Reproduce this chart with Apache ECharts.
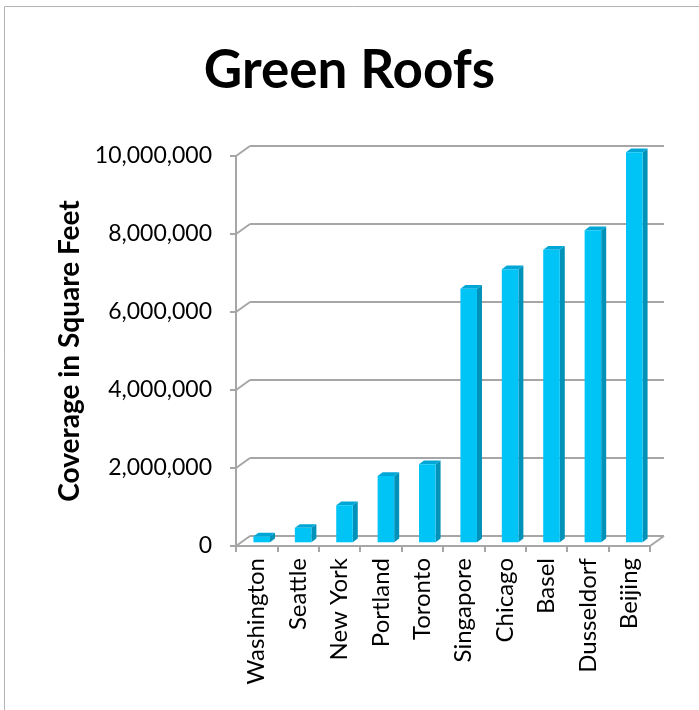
<!DOCTYPE html>
<html>
<head>
<meta charset="utf-8">
<script src="https://cdn.jsdelivr.net/npm/echarts@6/dist/echarts.min.js"></script>
<style>
html,body{margin:0;padding:0;background:#fff;}
#main{width:699px;height:710px;}
</style>
</head>
<body>
<div id="main"></div>
<script>
const categories = ['Washington','Seattle','New York','Portland','Toronto','Singapore','Chicago','Basel','Dusseldorf','Beijing'];
const coverage = [150000, 370000, 950000, 1700000, 2000000, 6500000, 7000000, 7500000, 8000000, 10000000];
const yTicks = [0, 2000000, 4000000, 6000000, 8000000, 10000000];
const titleText = 'Green Roofs';
const yAxisName = 'Coverage in Square Feet';

const FONT = 'Lato';
const GRAY = '#a6a6a6';
const DEPTH_X = 14, DEPTH_Y = -10;      // wall depth
const BAR_OFF_X = 5, BAR_OFF_Y = -3.7;  // bar placement within depth
const BAR_DX = 5, BAR_DY = -3.7;        // bar own depth

function fmt(v){ return v.toString().replace(/\B(?=(\d{3})+(?!\d))/g, ','); }

const chart = echarts.init(document.getElementById('main'), null, {renderer:'canvas'});

const option = {
  animation: false,
  backgroundColor: '#fff',
  title: {
    text: titleText,
    left: 'center',
    top: 39,
    textStyle: {fontFamily: FONT, fontWeight: 'bold', fontSize: 53, color: '#000'}
  },
  graphic: [{
    type: 'rect', silent: true, z: -10,
    shape: {x: 4.5, y: 6.5, width: 720, height: 720},
    style: {fill: 'none', stroke: '#b4b4b4', lineWidth: 1}
  }],
  grid: [
    {left: 236, right: 49, top: 156, bottom: 164},
    {left: 236 + DEPTH_X, right: 49 - DEPTH_X, top: 156 + DEPTH_Y, bottom: 164 - DEPTH_Y}
  ],
  xAxis: [
    {
      type: 'category', gridIndex: 0, data: categories,
      axisLine: {show: true, lineStyle: {color: GRAY, width: 2}},
      axisTick: {show: true, length: 6, lineStyle: {color: GRAY, width: 2}},
      axisLabel: {rotate: 90, margin: 12, fontFamily: FONT, fontSize: 24, color: '#000', padding: [10, 0, 0, 0]},
      splitLine: {show: false}
    },
    {
      type: 'category', gridIndex: 1, data: categories, show: false
    }
  ],
  yAxis: [
    {
      type: 'value', gridIndex: 0, min: 0, max: 10000000, interval: 2000000,
      axisLine: {show: true, lineStyle: {color: GRAY, width: 2}},
      axisTick: {show: true, length: 6, lineStyle: {color: GRAY, width: 2}},
      axisLabel: {margin: 24, fontFamily: FONT, fontSize: 23, color: '#000', formatter: v => fmt(v)},
      splitLine: {show: false},
      name: yAxisName, nameLocation: 'middle', nameRotate: 90, nameGap: 152,
      nameTextStyle: {fontFamily: FONT, fontWeight: 'bold', fontSize: 28, color: '#000'}
    },
    {
      type: 'value', gridIndex: 1, min: 0, max: 10000000, interval: 2000000,
      axisLine: {show: false}, axisTick: {show: false}, axisLabel: {show: false},
      splitLine: {show: true, lineStyle: {color: GRAY, width: 2}}
    }
  ],
  series: [
    {
      type: 'custom', xAxisIndex: 0, yAxisIndex: 0, silent: true, z: 1,
      data: yTicks.map(v => [0, v]),
      encode: {x: 0, y: 1},
      renderItem: function(params, api){
        const cs = params.coordSys;
        const y = api.coord([0, api.value(1)])[1];
        const children = [{
          type: 'line',
          shape: {x1: cs.x, y1: y, x2: cs.x + DEPTH_X, y2: y + DEPTH_Y},
          style: {stroke: GRAY, lineWidth: 2}
        }];
        if (api.value(1) === 0) {
          children.push({
            type: 'line',
            shape: {x1: cs.x + cs.width, y1: y, x2: cs.x + cs.width + DEPTH_X, y2: y + DEPTH_Y},
            style: {stroke: GRAY, lineWidth: 2}
          });
        }
        return {type: 'group', children: children};
      }
    },
    {
      type: 'custom', xAxisIndex: 0, yAxisIndex: 0, silent: true, z: 5,
      data: coverage.map((v, i) => [i, v]),
      encode: {x: 0, y: 1},
      renderItem: function(params, api){
        const i = api.value(0), v = api.value(1);
        const base = api.coord([i, 0]);
        const top = api.coord([i, v]);
        const slot = api.size([1, 0])[0];
        const w = slot * 0.4;
        const x0 = base[0] - w / 2 + BAR_OFF_X;
        const y0 = base[1] + BAR_OFF_Y;
        const yt = top[1] + BAR_OFF_Y;
        return {
          type: 'group',
          children: [
            {type: 'polygon', shape: {points: [[x0 + w, yt], [x0 + w + BAR_DX, yt + BAR_DY], [x0 + w + BAR_DX, y0 + BAR_DY], [x0 + w, y0]]},
             style: {fill: '#0092b8'}},
            {type: 'polygon', shape: {points: [[x0, yt], [x0 + BAR_DX, yt + BAR_DY], [x0 + w + BAR_DX, yt + BAR_DY], [x0 + w, yt]]},
             style: {fill: '#00a6d6'}},
            {type: 'rect', shape: {x: x0, y: yt, width: w, height: y0 - yt},
             style: {fill: '#00c4f6'}}
          ]
        };
      }
    }
  ]
};
chart.setOption(option);
</script>
</body>
</html>
